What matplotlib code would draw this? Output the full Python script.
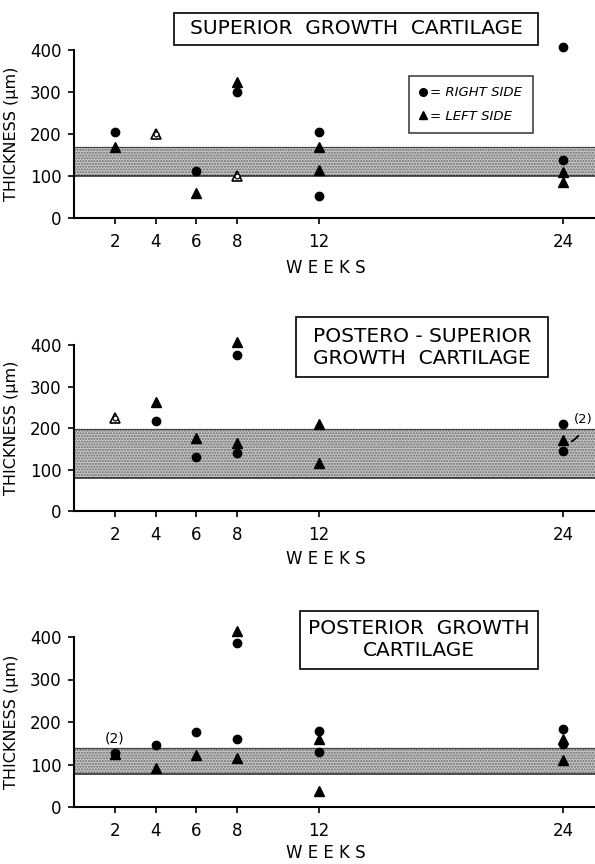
import matplotlib
matplotlib.use('Agg')
import matplotlib.pyplot as plt
from matplotlib.patches import Rectangle
from matplotlib.lines import Line2D

W, H = 595, 864

week_ticks = [2, 4, 6, 8, 12, 24]
y_ticks = [0, 100, 200, 300, 400]

# superior growth cartilage
sup_right_weeks = [2, 6, 8, 12, 12, 24, 24]
sup_right_vals = [205, 112, 300, 205, 52, 408, 138]
sup_left_weeks = [2, 6, 8, 12, 12, 24, 24]
sup_left_vals = [170, 60, 325, 170, 115, 110, 85]
sup_both_weeks = [4, 8]
sup_both_vals = [200, 100]
sup_band = [100, 170]

# postero-superior growth cartilage
pos_right_weeks = [4, 6, 8, 8, 24, 24]
pos_right_vals = [218, 130, 376, 140, 210, 145]
pos_left_weeks = [4, 6, 8, 8, 12, 12, 24]
pos_left_vals = [262, 176, 407, 164, 210, 115, 170]
pos_both_weeks = [2]
pos_both_vals = [225]
pos_band = [80, 197]

# posterior growth cartilage
post_right_weeks = [2, 4, 6, 8, 8, 12, 12, 24, 24]
post_right_vals = [128, 147, 176, 385, 160, 180, 130, 183, 148]
post_left_weeks = [2, 4, 6, 8, 8, 12, 12, 24, 24]
post_left_vals = [124, 91, 122, 415, 115, 160, 38, 160, 110]
post_both_weeks = []
post_both_vals = []
post_band = [77, 139]

plt.rcParams['font.family'] = 'DejaVu Sans'
plt.rcParams['hatch.color'] = '#6a6a6a'
fig = plt.figure(figsize=(W / 100, H / 100), dpi=100)


def px_box(x0, y0, x1, y1):
    return [x0 / W, 1 - y1 / H, (x1 - x0) / W, (y1 - y0) / H]


def add_box(x0, y0, x1, y1, lines, size=14.5):
    fig.add_artist(Rectangle((x0 / W, 1 - y1 / H), (x1 - x0) / W, (y1 - y0) / H,
                             transform=fig.transFigure, fill=False,
                             edgecolor='black', linewidth=1.2))
    fig.text((x0 + x1) / 2 / W, 1 - (y0 + y1) / 2 / H, '\n'.join(lines),
             ha='center', va='center', fontsize=size, linespacing=1.2)


def make_panel(box, rw, rv, lw, lv, bw, bv, band, weeks_y):
    ax = fig.add_axes(px_box(*box))
    ax.fill_between([0, 26], band[0], band[1], facecolor='#c6c6c6',
                    hatch='......', linewidth=0)
    ax.axhline(band[0], color='#222222', lw=1.1)
    ax.axhline(band[1], color='#444444', lw=0.9)
    ax.plot(lw, lv, '^', color='black', ms=6.5, clip_on=False)
    ax.plot(rw, rv, 'o', color='black', ms=6, clip_on=False)
    ax.plot(bw, bv, '^', mfc='white', mec='black', mew=1.2, ms=7.5, clip_on=False)
    ax.plot(bw, bv, 'o', mfc='white', mec='black', mew=0.9, ms=3.5, clip_on=False)
    ax.set_xlim(0, 25.8)
    ax.set_ylim(0, 400)
    ax.set_xticks(week_ticks)
    ax.set_yticks(y_ticks)
    ax.tick_params(labelsize=12, width=1.2, length=4, pad=5)
    ax.tick_params(axis='x', pad=7)
    for s in ['top', 'right']:
        ax.spines[s].set_visible(False)
    for s in ['left', 'bottom']:
        ax.spines[s].set_linewidth(1.5)
    ax.set_ylabel('THICKNESS (μm)', fontsize=11.5, labelpad=8)
    ax.patch.set_alpha(0)
    fig.text(326 / W, 1 - weeks_y / H, 'W E E K S', ha='center', va='center',
             fontsize=12)
    return ax


ax1 = make_panel((74, 50, 600, 218), sup_right_weeks, sup_right_vals,
                 sup_left_weeks, sup_left_vals, sup_both_weeks, sup_both_vals,
                 sup_band, 268)
add_box(174, 13, 538, 45, ['SUPERIOR  GROWTH  CARTILAGE'])

handles = [Line2D([], [], marker='o', ls='', color='black', ms=5.5),
           Line2D([], [], marker='^', ls='', color='black', ms=6)]
leg = fig.legend(handles, ['= RIGHT SIDE', '= LEFT SIDE'], loc='upper left',
                 bbox_to_anchor=(402 / W, 1 - 69 / H), frameon=True,
                 fancybox=False, edgecolor='black', handlelength=0.6,
                 handletextpad=0.25, borderpad=0.8, labelspacing=0.8,
                 prop={'style': 'italic', 'size': 9.5})
leg.get_frame().set_linewidth(1.1)

ax2 = make_panel((74, 345, 600, 511), pos_right_weeks, pos_right_vals,
                 pos_left_weeks, pos_left_vals, pos_both_weeks, pos_both_vals,
                 pos_band, 559)
add_box(296, 317, 548, 377, ['POSTERO - SUPERIOR', 'GROWTH  CARTILAGE'])
ax2.annotate('(2)', xy=(24.35, 166), xytext=(25.0, 221), fontsize=9.5,
             ha='center', va='center', annotation_clip=False,
             arrowprops=dict(arrowstyle='-', color='black', lw=1.3,
                             connectionstyle='arc3,rad=-0.3', shrinkA=6, shrinkB=1))

ax3 = make_panel((74, 637, 600, 807), post_right_weeks, post_right_vals,
                 post_left_weeks, post_left_vals, post_both_weeks, post_both_vals,
                 post_band, 853)
add_box(300, 611, 538, 669, ['POSTERIOR  GROWTH', 'CARTILAGE'])
ax3.text(2, 145, '(2)', fontsize=10, ha='center', va='bottom')

fig.savefig('out.png', dpi=100)
